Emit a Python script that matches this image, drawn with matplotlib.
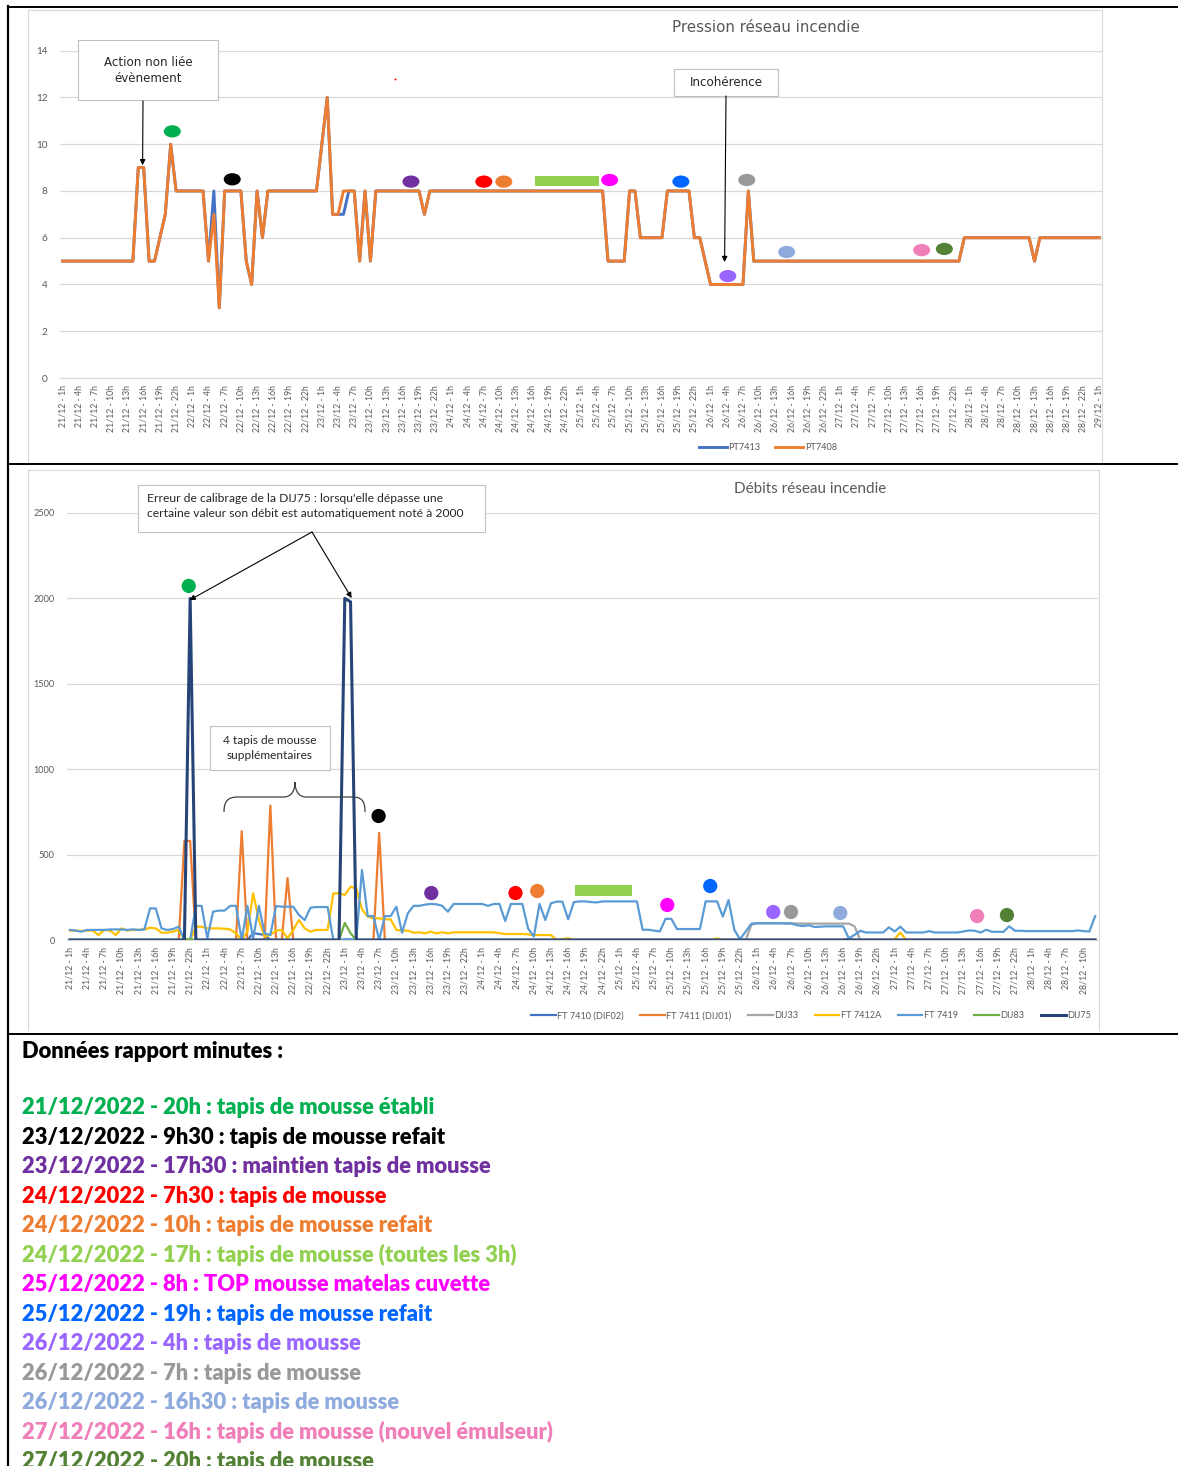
import numpy as np
import matplotlib
matplotlib.use("Agg")
import matplotlib.pyplot as plt
from matplotlib.path import Path
from matplotlib.patches import PathPatch, Rectangle
from matplotlib.transforms import Affine2D

plt.rcParams['font.family'] = ['Lato', 'DejaVu Sans']

W, H = 1178, 1466

# =========================================================
# DATA
# =========================================================

# hourly categories, starting 21/12 - 1h
days = [21, 22, 23, 24, 25, 26, 27, 28, 29]

# pressure (bar), run-length: (value, number of hours)
pt7408_runs = [(5, 14), (9, 2), (5, 2), (6, 1), (7, 1), (10, 1), (8, 6), (5, 1), (7, 1), (3, 1),
               (8, 4), (5, 1), (4, 1), (8, 1), (6, 1), (8, 10), (10, 1), (12, 1), (7, 2), (8, 3),
               (5, 1), (8, 1), (5, 1), (8, 9), (7, 1), (8, 33), (5, 4), (8, 2), (6, 5), (8, 5),
               (6, 2), (5, 1), (4, 7), (8, 1), (5, 39), (6, 13), (5, 1), (6, 12)]
pt7413_runs = [(5, 14), (9, 2), (5, 2), (6, 1), (7, 1), (10, 1), (8, 6), (5, 1), (8, 1), (3, 1),
               (8, 4), (5, 1), (4, 1), (8, 1), (6, 1), (8, 10), (10, 1), (12, 1), (7, 3), (8, 2),
               (5, 1), (8, 1), (5, 1), (8, 9), (7, 1), (8, 33), (5, 4), (8, 2), (6, 5), (8, 5),
               (6, 2), (5, 1), (4, 7), (8, 1), (5, 39), (6, 13), (5, 1), (6, 12)]

# flow rates, 180 hours
ft7419 = [59, 55, 49, 59, 59, 59, 59, 62, 62, 62, 59, 62,
          59, 62, 185, 185, 68, 59, 64, 78, 0, 0, 200, 200,
          10, 166, 172, 172, 200, 200, 0, 200, 10, 200, 39, 29,
          199, 195, 195, 195, 146, 117, 189, 193, 193, 193, 0, 0,
          5, 5, 0, 410, 140, 140, 0, 140, 140, 195, 43, 156,
          200, 200, 207, 211, 209, 200, 166, 211, 211, 211, 211, 211,
          211, 200, 211, 211, 111, 211, 211, 211, 68, 20, 211, 117,
          215, 225, 224, 121, 222, 226, 226, 222, 220, 226, 226, 226,
          226, 226, 226, 226, 60, 60, 55, 50, 124, 124, 64, 64,
          64, 64, 64, 226, 226, 226, 137, 234, 60, 4, 50, 96,
          98, 98, 98, 98, 98, 97, 96, 86, 82, 86, 76, 78,
          80, 80, 80, 80, 10, 30, 54, 44, 44, 44, 44, 74,
          50, 78, 44, 44, 44, 44, 52, 44, 44, 44, 44, 44,
          50, 56, 54, 44, 60, 48, 48, 48, 80, 54, 54, 52,
          52, 52, 52, 52, 52, 52, 52, 52, 56, 52, 50, 140]
ft7412a = [55, 55, 53, 55, 55, 29, 59, 55, 29, 68, 55, 59,
           59, 62, 72, 68, 43, 43, 49, 59, 0, 0, 78, 78,
           68, 68, 68, 66, 62, 39, 0, 50, 273, 117, 20, 29,
           55, 59, 10, 59, 117, 68, 49, 59, 59, 59, 273, 273,
           264, 312, 302, 180, 137, 127, 127, 121, 121, 59, 55, 55,
           43, 45, 39, 49, 39, 45, 39, 45, 45, 45, 45, 45,
           45, 45, 45, 40, 35, 35, 35, 35, 33, 29, 29, 29,
           29, 0, 5, 10] + [0] * 92
ft7412a_extra = {113: 10, 144: 5, 145: 44}
# sparse series: hour -> value (0 elsewhere)
ft7410_pts = {32: 40, 33: 35, 34: 30, 136: 8}
ft7411_pts = {20: 580, 21: 580, 30: 637, 35: 788, 38: 363, 54: 627}
dij33_pts = {119: 90, 120: 98, 121: 98, 122: 98, 123: 98, 124: 98, 125: 98, 126: 98,
             127: 96, 128: 96, 129: 96, 130: 96, 131: 96, 132: 96, 133: 96, 134: 96,
             135: 96, 136: 96, 137: 80}
dij83_pts = {20: 5, 21: 5, 48: 100, 49: 40}
dij75_pts = {21: 2000, 48: 2000, 49: 1980}

# events (minutes report)
event_texts = ["21/12/2022 - 20h : tapis de mousse établi",
               "23/12/2022 - 9h30 : tapis de mousse refait",
               "23/12/2022 - 17h30 : maintien tapis de mousse",
               "24/12/2022 - 7h30 : tapis de mousse",
               "24/12/2022 - 10h : tapis de mousse refait",
               "24/12/2022 - 17h : tapis de mousse (toutes les 3h)",
               "25/12/2022 - 8h : TOP mousse matelas cuvette",
               "25/12/2022 - 19h : tapis de mousse refait",
               "26/12/2022 - 4h : tapis de mousse",
               "26/12/2022 - 7h : tapis de mousse",
               "26/12/2022 - 16h30 : tapis de mousse",
               "27/12/2022 - 16h : tapis de mousse (nouvel émulseur)",
               "27/12/2022 - 20h : tapis de mousse"]
event_colors = ['#00B050', '#000000', '#7030A0', '#FF0000', '#ED7D31', '#92D050', '#FF00FF',
                '#0066FF', '#9966FF', '#999999', '#8FAADC', '#F07EB8', '#538135']
dot_colors = [c for i, c in enumerate(event_colors) if i != 5]
top_dot_hour = [20.3, 31.4, 64.5, 78.0, 81.7, 101.3, 114.5, 123.2, 126.7, 134.1, 159.1, 163.3]
top_dot_level = [10.55, 8.5, 8.4, 8.4, 8.4, 8.47, 8.4, 4.36, 8.47, 5.39, 5.47, 5.52]
bot_dot_hour = [20.75, 53.9, 63.1, 77.8, 81.6, 104.3, 111.8, 122.8, 125.9, 134.5, 158.4, 163.6]
bot_dot_level = [2073, 726, 275, 275, 287, 205, 316, 164, 164, 158, 140, 146]
top_span = (87.5, 99.3, 8.21, 8.64)
bot_span = (88.2, 98.2, 259, 324)


def expand(runs):
    return np.repeat([v for v, n in runs], [n for v, n in runs])


def sparse(pts, n):
    arr = np.zeros(n)
    for k, v in pts.items():
        arr[k] = v
    return arr


def hour_labels(n):
    out = []
    for k in range(n):
        t = k + 1
        out.append(f"{days[t // 24]}/12 - {t % 24}h")
    return out


pt7408 = expand(pt7408_runs)
pt7413 = expand(pt7413_runs)
n_top = len(pt7408)
n_bot = len(ft7419)
ft7412a = np.array(ft7412a, dtype=float)
for k, v in ft7412a_extra.items():
    ft7412a[k] = v

# =========================================================
# FIGURE
# =========================================================
fig = plt.figure(figsize=(W / 100, H / 100), dpi=100)

GRID = '#D9D9D9'
TXT = '#595959'


def style(ax, n, ymax, ystep, ysize):
    ax.set_xlim(-0.5, n - 0.5)
    ax.set_ylim(0, ymax)
    ax.set_yticks(np.arange(0, ymax + 1, ystep))
    ax.yaxis.grid(True, color=GRID, lw=0.9)
    ax.set_axisbelow(True)
    for s in ['top', 'right', 'left']:
        ax.spines[s].set_visible(False)
    ax.spines['bottom'].set_color(GRID)
    labels = hour_labels(n)
    ax.set_xticks(range(0, n, 3))
    ax.set_xticklabels(labels[::3], rotation=90, fontsize=6.3, color=TXT)
    ax.tick_params(axis='x', length=0, pad=5)
    ax.tick_params(axis='y', length=0, pad=9, labelsize=ysize, labelcolor=TXT)
    ax.patch.set_alpha(0)


ell = Path.unit_circle().transformed(Affine2D().scale(1.0, 0.72))

# ---------- top chart: pressure ----------
ax1 = fig.add_axes([60 / W, 1 - 378 / H, 1042 / W, 327.3 / H])
style(ax1, n_top, 14, 2, 7.2)
x_top = np.arange(n_top)
l1, = ax1.plot(x_top, pt7413, color='#4472C4', lw=2.1, solid_joinstyle='round', label='PT7413')
l2, = ax1.plot(x_top, pt7408, color='#ED7D31', lw=2.1, solid_joinstyle='round', label='PT7408')
ax1.scatter(top_dot_hour, top_dot_level, s=150, marker=ell, c=dot_colors, linewidths=0, zorder=5)
ax1.add_patch(Rectangle((top_span[0], top_span[2]), top_span[1] - top_span[0],
                        top_span[3] - top_span[2], color='#92D050', lw=0, zorder=5))
ax1.scatter([61.6], [12.8], s=2, c='#FF0000', linewidths=0)

fig.legend(handles=[l1, l2], loc='center', bbox_to_anchor=(768 / W, 1 - 448 / H), ncol=2,
           frameon=False, prop={'family': 'Lato', 'size': 6.6}, labelcolor=TXT,
           handlelength=3.0, columnspacing=1.6, handletextpad=0.2)

# ---------- bottom chart: flow ----------
ax2 = fig.add_axes([67 / W, 1 - 940 / H, 1031 / W, 427 / H])
style(ax2, n_bot, 2500, 500, 6.6)
x_bot = np.arange(n_bot)
series = [('FT 7410 (DIF02)', sparse(ft7410_pts, n_bot), '#4472C4', 1.6),
          ('FT 7411 (DIJ01)', sparse(ft7411_pts, n_bot), '#ED7D31', 1.6),
          ('DIJ33', sparse(dij33_pts, n_bot), '#A5A5A5', 1.6),
          ('FT 7412A', ft7412a, '#FFC000', 1.6),
          ('FT 7419', np.array(ft7419), '#5B9BD5', 1.6),
          ('DIJ83', sparse(dij83_pts, n_bot), '#70AD47', 1.6),
          ('DIJ75', sparse(dij75_pts, n_bot), '#264478', 2.2)]
handles = []
for name, vals, col, lw in series:
    h, = ax2.plot(x_bot, vals, color=col, lw=lw, solid_joinstyle='round', label=name)
    handles.append(h)
ax2.scatter(bot_dot_hour, bot_dot_level, s=105, marker='o', c=dot_colors, linewidths=0, zorder=8)
ax2.add_patch(Rectangle((bot_span[0], bot_span[2]), bot_span[1] - bot_span[0],
                        bot_span[3] - bot_span[2], color='#92D050', lw=0, zorder=8))

fig.legend(handles=handles, loc='center', bbox_to_anchor=(811 / W, 1 - 1016 / H), ncol=7,
           frameon=False, prop={'family': 'Lato', 'size': 6.6}, labelcolor=TXT,
           handlelength=2.7, columnspacing=1.8, handletextpad=0.15)

# ---------- overlay (pixel coordinates) ----------
ov = fig.add_axes([0, 0, 1, 1], zorder=10)
ov.set_xlim(0, W)
ov.set_ylim(H, 0)
ov.axis('off')

# chart frames
for x0, y0, x1, y1 in [(28, 10, 1102, 462), (28, 470, 1099, 1030)]:
    ov.plot([x0, x1, x1], [y0, y0, y1], color=GRID, lw=0.8)
    ov.plot([x0, x0], [y0, y1], color=GRID, lw=0.8)

# page borders
ov.plot([8, W], [6.5, 6.5], color='black', lw=1.4)
ov.plot([8, 8], [5.5, H], color='black', lw=1.6)
ov.plot([8, W], [463.5, 463.5], color='black', lw=1.4)
ov.plot([8, W], [1033.5, 1033.5], color='black', lw=1.4)

# titles
ov.text(766, 28, "Pression réseau incendie", ha='center', va='center', fontsize=10.9,
        color=TXT, family='DejaVu Sans')
ov.text(810, 489, "Débits réseau incendie", ha='center', va='center', fontsize=11, color=TXT)

# callout boxes
BOX = '#BFBFBF'
ov.add_patch(Rectangle((78, 40), 140, 60, fc='white', ec=BOX, lw=0.8))
ov.text(148, 70.5, "Action non liée\névènement", ha='center', va='center', fontsize=8.6,
        color='#262626', family='DejaVu Sans', linespacing=1.25)
ov.add_patch(Rectangle((674, 69), 104, 27, fc='white', ec=BOX, lw=0.8))
ov.text(726, 83, "Incohérence", ha='center', va='center', fontsize=8.6,
        color='#262626', family='DejaVu Sans')
ov.add_patch(Rectangle((138, 485), 347, 47, fc='white', ec=BOX, lw=0.8))
ov.text(147, 506, "Erreur de calibrage de la DIJ75 : lorsqu'elle dépasse une\n"
        "certaine valeur son débit est automatiquement noté à 2000",
        ha='left', va='center', fontsize=8.7, color='#262626', linespacing=1.35)
ov.add_patch(Rectangle((210, 726), 120, 44, fc='white', ec=BOX, lw=0.8))
ov.text(270, 748, "4 tapis de mousse\nsupplémentaires", ha='center', va='center',
        fontsize=8.6, color='#262626', linespacing=1.35)

arrow = dict(arrowstyle='-|>', color='black', lw=0.8, mutation_scale=8, shrinkA=0, shrinkB=0)
ov.annotate('', xy=(14.8, 9.1), xycoords=ax1.transData, xytext=(143, 101),
            textcoords=ov.transData, arrowprops=arrow)
ov.annotate('', xy=(122.6, 4.96), xycoords=ax1.transData, xytext=(726, 96),
            textcoords=ov.transData, arrowprops=arrow)
ov.annotate('', xy=(20.9, 1990), xycoords=ax2.transData, xytext=(312, 532),
            textcoords=ov.transData, arrowprops=arrow)
ov.annotate('', xy=(49.2, 2002), xycoords=ax2.transData, xytext=(312, 532),
            textcoords=ov.transData, arrowprops=arrow)

# curly brace
verts = [(224, 812), (224, 801), (228, 797), (238, 797),
         (284, 797), (291, 797), (295, 791), (295, 782),
         (295, 791), (299, 797), (306, 797), (352, 797),
         (362, 797), (365, 801), (365, 812)]
codes = [Path.MOVETO, Path.CURVE4, Path.CURVE4, Path.CURVE4,
         Path.LINETO, Path.CURVE4, Path.CURVE4, Path.CURVE4,
         Path.CURVE4, Path.CURVE4, Path.CURVE4, Path.LINETO,
         Path.CURVE4, Path.CURVE4, Path.CURVE4]
ov.add_patch(PathPatch(Path(verts, codes), fc='none', ec='#404040', lw=0.9))

# ---------- minutes report text ----------
texts = [ov.text(22, 1051, "Données rapport minutes :", fontsize=15, fontweight='heavy',
                 color='black', ha='left', va='center')]
for i, (t, c) in enumerate(zip(event_texts, event_colors)):
    texts.append(ov.text(22, 1108 + 29.45 * i, t, fontsize=15, fontweight='heavy',
                         color=c, ha='left', va='center'))

r = fig.canvas.get_renderer()
fs = 15 * 414 / texts[1].get_window_extent(r).width
for t in texts:
    t.set_fontsize(fs)

plt.savefig("out.png", dpi=100)
